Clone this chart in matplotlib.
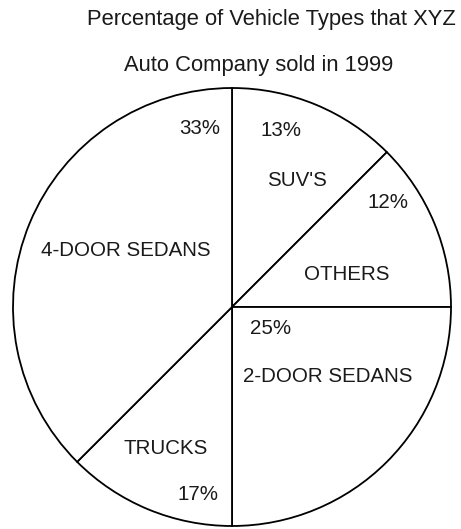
"""Круговая диаграмма типов автомобилей XYZ Auto Company, 1999."""
import matplotlib

matplotlib.use("Agg")
import matplotlib.pyplot as plt

# Размер картинки в пикселях
WIDTH, HEIGHT = 461, 529
DPI = 100

# Категории и подписи процентов (как на картинке)
categories = ["SUV'S", "OTHERS", "2-DOOR SEDANS", "TRUCKS", "4-DOOR SEDANS"]
pct_labels = ["13%", "12%", "25%", "17%", "33%"]
# Доли секторов так, как они нарисованы (от верхней точки по часовой стрелке)
drawn_share = [12.5, 12.5, 25.0, 12.5, 37.5]

# Положение подписей в пикселях (x, y сверху вниз): название, процент
name_pos = [(297, 180), (347, 274), (328, 377), (166, 448), (126, 250)]
pct_pos = [(281, 130), (388, 203), (271, 329), (198, 494), (200, 128)]

CENTER = (232, 307)
RADIUS = 219
FONT = 14.8
TITLE_FONT = 15.8


def flip(y):
    return HEIGHT - y


fig = plt.figure(figsize=(WIDTH / DPI, HEIGHT / DPI), dpi=DPI)
ax = fig.add_axes([0, 0, 1, 1])
plt.rcParams["font.family"] = ["Liberation Sans", "DejaVu Sans"]

ax.pie(
    drawn_share,
    center=(CENTER[0], flip(CENTER[1])),
    radius=RADIUS,
    startangle=90,
    counterclock=False,
    wedgeprops=dict(facecolor="white", edgecolor="black", linewidth=1.3),
)

for name, (x, y) in zip(categories, name_pos):
    ax.text(x, flip(y), name, ha="center", va="center", fontsize=FONT,
            color="#1a1a1a")
for pct, (x, y) in zip(pct_labels, pct_pos):
    ax.text(x, flip(y), pct, ha="center", va="center", fontsize=FONT,
            color="#1a1a1a")

ax.text(271, flip(20), "Percentage of Vehicle Types that XYZ", ha="center",
        va="center", fontsize=TITLE_FONT, color="#1a1a1a")
ax.text(259, flip(65), "Auto Company sold in 1999", ha="center",
        va="center", fontsize=TITLE_FONT, color="#1a1a1a")

ax.set_xlim(0, WIDTH)
ax.set_ylim(0, HEIGHT)
ax.set_aspect("equal")
ax.axis("off")
fig.savefig("out.png", dpi=DPI, facecolor="white")
